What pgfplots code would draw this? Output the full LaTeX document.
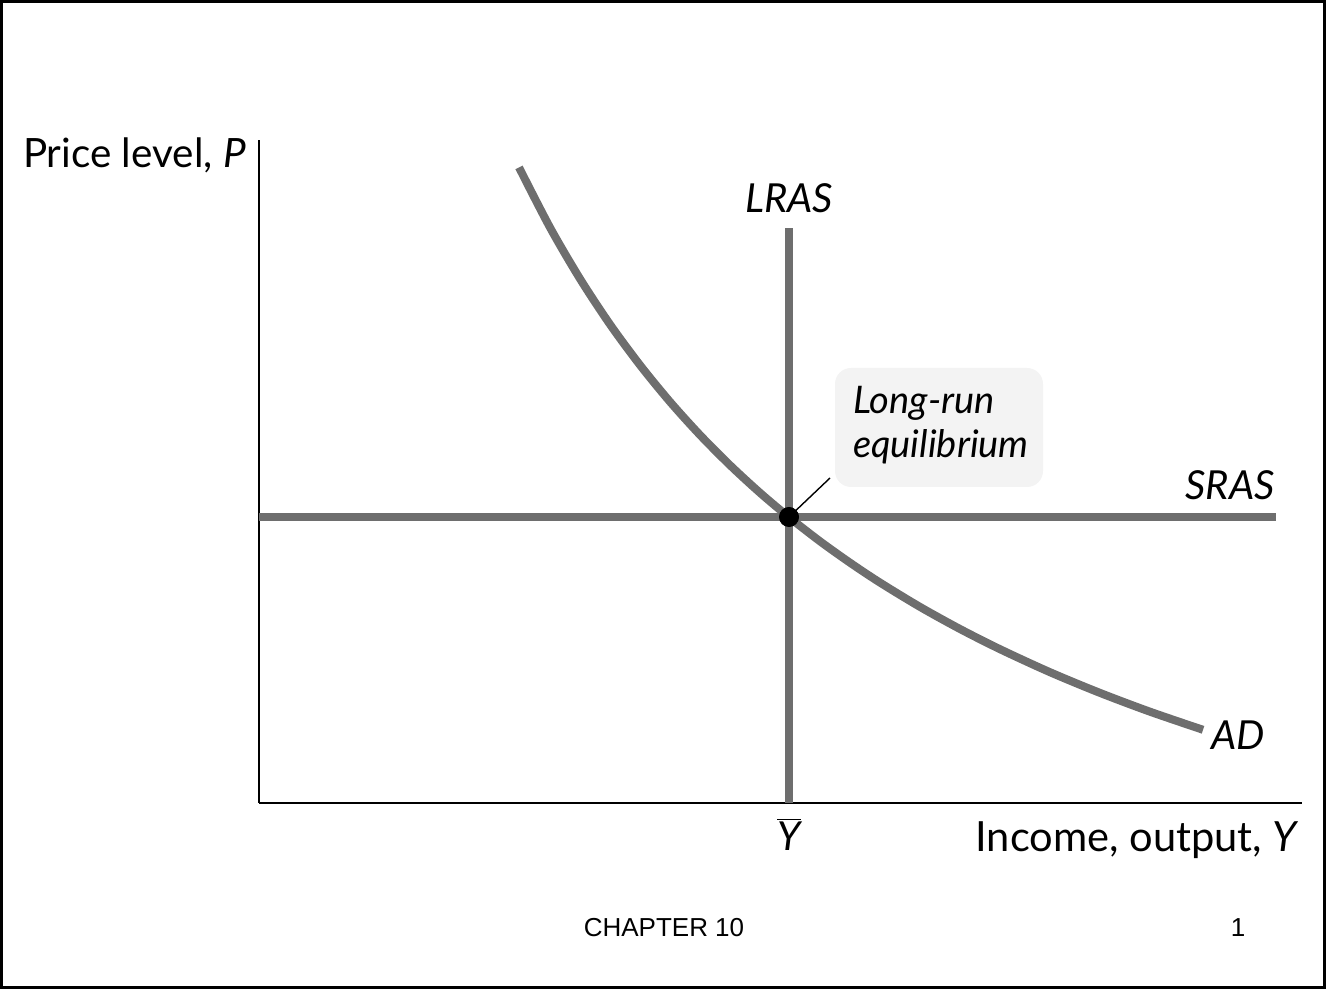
\documentclass[border=0pt]{standalone}
\usepackage{pgfplots}
\pgfplotsset{compat=1.18}
\usepackage{fontspec}
\setmainfont{Lato}
\newfontfamily\arialfont{Liberation Sans}
\definecolor{curve}{HTML}{6E6E6E}
\definecolor{boxfill}{HTML}{F3F3F3}
\begin{document}
\begin{tikzpicture}
\begin{axis}[
  at={(129.5pt,93pt)}, anchor=south west,
  scale only axis, width=521.5pt, height=331.5pt,
  xmin=259, xmax=1302, ymin=186, ymax=849,
  axis x line=bottom, axis y line=left,
  axis line style={-, line width=0.8pt, black},
  xtick={789}, xticklabels={$\overline{\mbox{\itshape Y}}$},
  ytick=\empty,
  major tick length=0pt,
  xticklabel style={font=\fontsize{20}{23}\selectfont, yshift=-4pt},
  clip=false,
]
\addplot[curve, line width=4pt, line cap=butt] coordinates {(259,472) (1276,472)};
\addplot[curve, line width=4pt, line cap=butt] coordinates {(789,186) (789,761)};
\addplot[curve, line width=4pt, line cap=butt, smooth] coordinates {
(519,821.6) (550,761.5) (580,710.2) (610,664.6) (640,623.9) (670,587.2)
(700,554.0) (730,523.8) (760,496.2) (789,471.8) (820,447.7) (850,426.3)
(880,406.4) (920,382.1) (960,360.0) (1000,339.8) (1050,316.8) (1100,296.1)
(1150,277.3) (1203,259.2)};
\fill[boxfill, rounded corners=8pt] (axis cs:835,502) rectangle (axis cs:1043,621);
\draw[black, line width=0.7pt] (axis cs:789,472) -- (axis cs:830,511);
\addplot[only marks, mark=*, mark size=4.8pt, black] coordinates {(789,472)};
\node[anchor=west, align=left, font=\fontsize{19}{22}\selectfont\itshape] at (axis cs:846,564) {Long-run\\equilibrium};
\node[font=\fontsize{20}{23}\selectfont\itshape] at (axis cs:789,791) {LRAS};
\node[font=\fontsize{20}{23}\selectfont\itshape] at (axis cs:1230,504) {SRAS};
\node[font=\fontsize{20}{23}\selectfont\itshape] at (axis cs:1238,254) {AD};
\node[anchor=west, font=\fontsize{20.2}{23}\selectfont] at (axis cs:16,834) {Price level, \textit{P}};
\node[anchor=east, font=\fontsize{20.8}{24}\selectfont] at (axis cs:1306,149) {Income, output, \textit{Y}};
\node[font=\arialfont\fontsize{13}{15}\selectfont] at (axis cs:664,61) {CHAPTER 10};
\node[font=\arialfont\fontsize{13}{15}\selectfont] at (axis cs:1238,61) {1};
\end{axis}
\draw[black, line width=1.5pt] (0.75pt,0.75pt) rectangle (662.25pt,493.75pt);
\end{tikzpicture}
\end{document}
